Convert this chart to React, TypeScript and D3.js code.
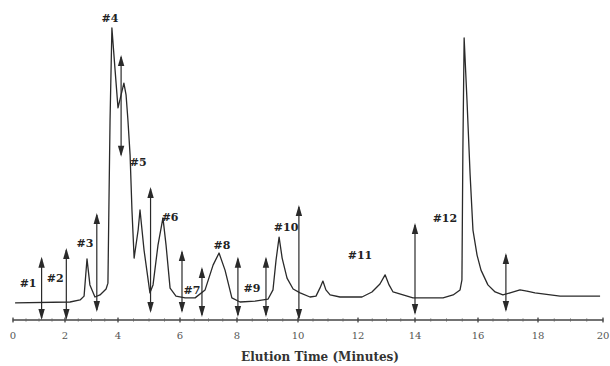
import React from "react";
import * as d3 from "d3";

// chromatogram trace (minutes, detector response)
const traceTime = [
  0.08, 2.19, 2.57, 2.72, 2.83, 2.94, 3.13, 3.32, 3.55, 3.62, 3.66, 3.7, 3.77,
  3.89, 4.0, 4.1, 4.19, 4.26, 4.32, 4.39, 4.45, 4.52, 4.65, 4.71, 4.84, 5.03,
  5.13, 5.29, 5.45, 5.55, 5.68, 5.87, 6.18, 6.53, 6.88, 7.16, 7.37, 7.58, 7.82,
  8.1, 8.59, 9.02, 9.18, 9.28, 9.38, 9.48, 9.64, 9.84, 10.07, 10.4, 10.6, 10.73,
  10.83, 10.93, 11.07, 11.4, 12.14, 12.49, 12.77, 12.95, 13.09, 13.23, 13.58,
  13.93, 14.89, 15.21, 15.43, 15.49, 15.52, 15.56, 15.65, 15.75, 15.84, 15.97,
  16.1, 16.33, 16.57, 16.83, 17.07, 17.4, 17.63, 17.9, 18.68, 19.91,
];
const traceSignal = [
  5.8, 6.1, 6.8, 8.1, 20.7, 11.9, 7.8, 8.5, 10.5, 12.5, 40.7, 67.8, 99.0, 84.7,
  71.9, 76.3, 80.3, 76.3, 67.8, 55.9, 37.3, 21.0, 30.5, 37.3, 23.7, 9.2, 11.9,
  25.4, 34.6, 25.4, 10.8, 8.1, 7.5, 7.5, 10.2, 18.6, 22.7, 16.9, 7.5, 6.1, 6.4,
  7.1, 10.2, 20.3, 28.1, 21.0, 14.2, 10.5, 9.2, 7.8, 8.1, 10.8, 13.2, 10.2, 8.5,
  7.8, 7.8, 9.5, 12.2, 15.3, 11.9, 9.5, 8.5, 7.5, 7.5, 8.5, 10.2, 13.6, 57.6,
  95.6, 74.6, 49.2, 30.5, 22.0, 16.9, 11.9, 9.5, 8.5, 9.2, 10.2, 9.8, 9.2, 8.1,
  8.1,
];

// fraction cut markers (double arrows)
const cutTime = [1.1, 2.05, 3.2, 4.1, 5.05, 6.07, 6.77, 8.03, 8.95, 10.03, 14.0, 16.93];
const cutLow = [0, 0, 2.7, 55.3, 2.4, 2.4, 1.0, 1.0, 1.0, 0, 1.7, 2.7];
const cutHigh = [21.4, 24.4, 36.3, 89.8, 45.1, 23.7, 18.0, 21.4, 21.4, 39.0, 32.9, 22.7];

// peak labels
const peakNames = ["#1", "#2", "#3", "#4", "#5", "#6", "#7", "#8", "#9", "#10", "#11", "#12"];
const peakTime = [0.58, 1.62, 2.75, 3.7, 4.65, 5.68, 6.42, 7.47, 8.49, 9.61, 12.07, 14.95];
const peakSignal = [12.5, 14.2, 26.1, 102.4, 53.6, 34.9, 10.2, 25.4, 10.8, 31.5, 22.0, 34.6];

const tickValues = [0, 2, 4, 6, 8, 10, 12, 14, 16, 18, 20];
const minorTicks = d3.range(0, 20.01, 0.5);

const W = 610;
const H = 366;

export default function App() {
  // the scanned axis is slightly uneven, so map each labelled tick to where it sits
  const x = d3
    .scaleLinear()
    .domain(tickValues)
    .range([13, 65, 118, 180, 237, 298, 358, 415, 478, 538, 603]);
  const y = d3.scaleLinear().domain([0, 100]).range([320, 25]);
  const axisY = y(0);

  const pts: [number, number][] = traceTime.map((t, i) => [t, traceSignal[i]]);
  const line = d3
    .line<[number, number]>()
    .x((d) => x(d[0]))
    .y((d) => y(d[1]));

  const ink = "#2a2a2a";
  const serif = "'DejaVu Serif', 'Liberation Serif', serif";
  const headW = 3.2;
  const headL = 11;

  return (
    <svg
      width={W}
      height={H}
      style={{ position: "absolute", left: 0, top: 0, background: "#fff" }}
    >
      {/* x axis */}
      <line x1={x(0)} x2={x(20)} y1={axisY} y2={axisY} stroke="#444" strokeWidth={1.4} />
      {minorTicks.map((t) => (
        <line key={"m" + t} x1={x(t)} x2={x(t)} y1={axisY - 1.5} y2={axisY + 1.5} stroke="#666" strokeWidth={1} />
      ))}
      {tickValues.map((t) => (
        <g key={"t" + t}>
          <line x1={x(t)} x2={x(t)} y1={axisY - 2.5} y2={axisY + 2.5} stroke="#444" strokeWidth={1.2} />
          <text
            x={x(t)}
            y={axisY + 19}
            textAnchor="middle"
            fontFamily={serif}
            fontSize={10}
            fill="#555"
          >
            {t}
          </text>
        </g>
      ))}
      <text
        x={320}
        y={361}
        textAnchor="middle"
        fontFamily={serif}
        fontWeight="bold"
        fontSize={12}
        fill="#333"
      >
        Elution Time (Minutes)
      </text>

      {/* trace */}
      <path d={line(pts) ?? ""} fill="none" stroke={ink} strokeWidth={1.3} strokeLinejoin="round" />

      {/* cut arrows */}
      {cutTime.map((t, i) => {
        const cx = x(t);
        const top = y(cutHigh[i]);
        const bot = y(cutLow[i]);
        return (
          <g key={"c" + i}>
            <line x1={cx} x2={cx} y1={top + 2} y2={bot - 2} stroke={ink} strokeWidth={1.2} />
            <path
              d={`M${cx},${top}L${cx - headW},${top + headL}L${cx + headW},${top + headL}Z`}
              fill={ink}
            />
            <path
              d={`M${cx},${bot}L${cx - headW},${bot - headL}L${cx + headW},${bot - headL}Z`}
              fill={ink}
            />
          </g>
        );
      })}

      {/* peak labels */}
      {peakNames.map((name, i) => (
        <text
          key={name}
          x={x(peakTime[i])}
          y={y(peakSignal[i])}
          dy="0.35em"
          textAnchor="middle"
          fontFamily={serif}
          fontWeight="bold"
          fontSize={11}
          fill="#222"
        >
          {name}
        </text>
      ))}
    </svg>
  );
}
